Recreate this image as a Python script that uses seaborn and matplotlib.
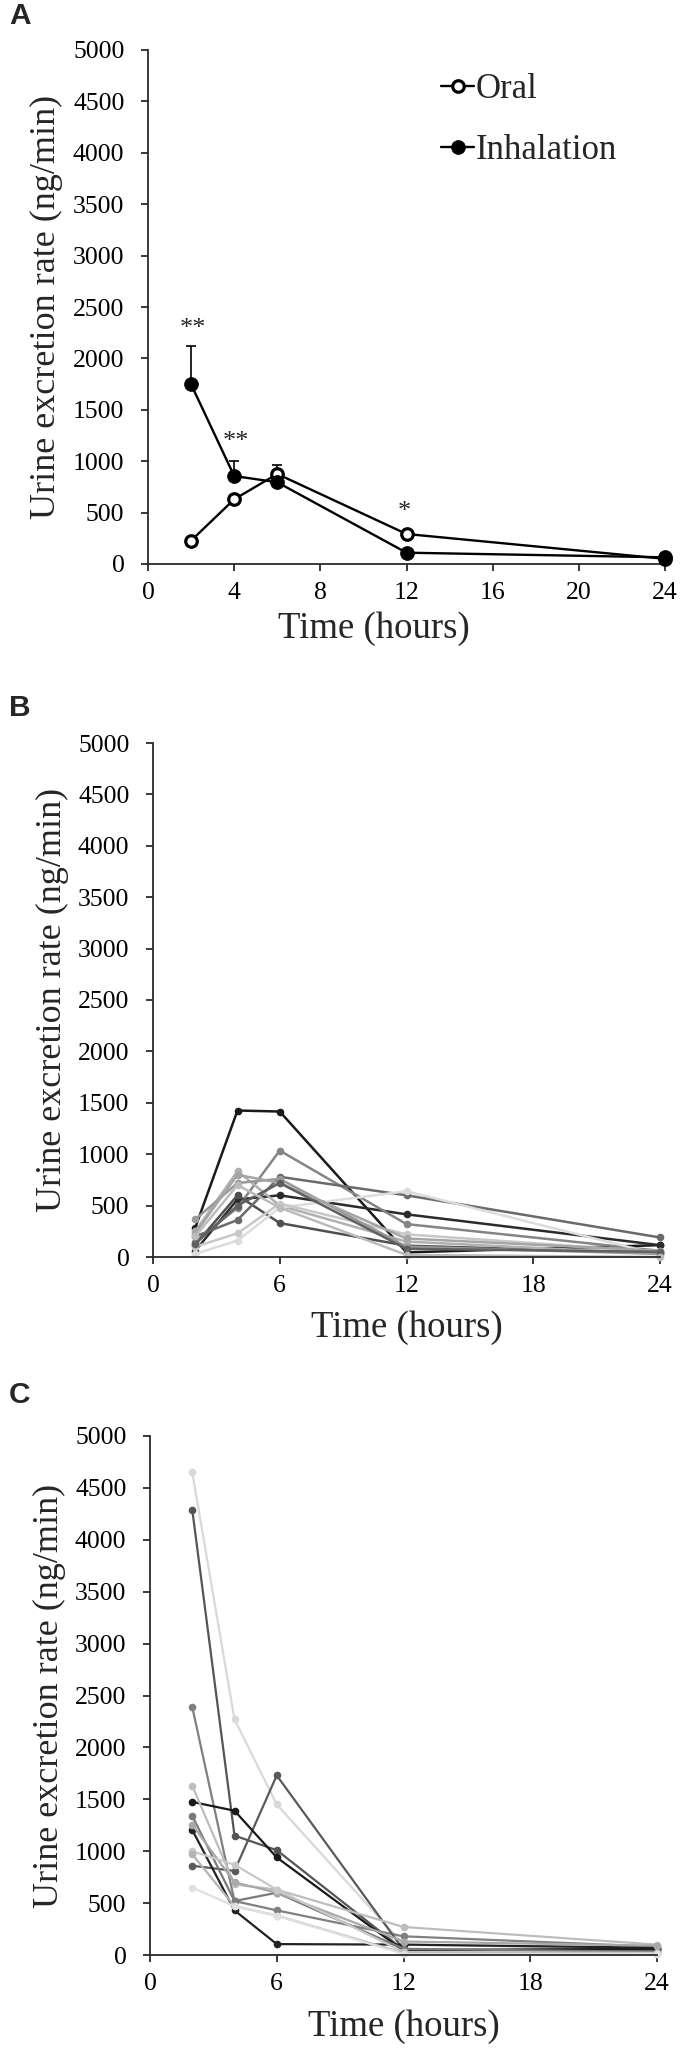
import numpy as np
import pandas as pd
import matplotlib
matplotlib.use("Agg")
import matplotlib.pyplot as plt
import seaborn as sns

# ---------------- data ----------------
hours = [2, 4, 6, 12, 24]

# Panel A: means and upper SD
oral_mean = [227, 629, 876, 292, 50]
oral_sd = [0, 0, 87, 0, 0]
inhal_mean = [1748, 856, 795, 110, 65]
inhal_sd = [376, 146, 0, 0, 0]
sig_labels = ["**", "**", "*"]
sig_x = [2.1, 4.1, 11.9]
sig_y = [2355, 1255, 574]

# Panel B: individual oral subjects
oral_subjects = {
    "O1": [285, 1425, 1415, 45, 115],
    "O2": [60, 560, 600, 415, 115],
    "O3": [150, 480, 1035, 320, 60],
    "O4": [120, 600, 330, 110, 40],
    "O5": [200, 360, 780, 600, 190],
    "O6": [250, 835, 500, 150, 30],
    "O7": [30, 160, 480, 640, 20],
    "O8": [100, 230, 520, 220, 50],
    "O9": [365, 720, 760, 100, 30],
    "O10": [230, 800, 720, 180, 60],
    "O11": [130, 500, 720, 80, 50],
    "O12": [200, 700, 480, 20, 0],
}
oral_colors = ["#1a1a1a", "#2b2b2b", "#858585", "#505050", "#6a6a6a", "#b0b0b0",
               "#dcdcdc", "#c8c8c8", "#999999", "#a5a5a5", "#606060", "#bbbbbb"]

# Panel C: individual inhalation subjects
inhal_subjects = {
    "I1": [4650, 2270, 1450, 100, 60],
    "I2": [4290, 1150, 1010, 50, 60],
    "I3": [2390, 520, 430, 180, 80],
    "I4": [860, 810, 1730, 50, 40],
    "I5": [1475, 1390, 940, 40, 60],
    "I6": [1205, 430, 105, 100, 70],
    "I7": [1630, 680, 630, 270, 100],
    "I8": [1340, 520, 600, 60, 30],
    "I9": [1255, 700, 600, 130, 90],
    "I10": [1000, 870, 630, 30, 20],
    "I11": [970, 470, 380, 20, 10],
    "I12": [650, 470, 380, 10, 10],
}
inhal_colors = ["#d9d9d9", "#555555", "#808080", "#5a5a5a", "#1a1a1a", "#222222",
                "#bdbdbd", "#7a7a7a", "#a8a8a8", "#c8c8c8", "#b4b4b4", "#e0e0e0"]

yticks = list(range(0, 5001, 500))
xticks_a = [0, 4, 8, 12, 16, 20, 24]
xticks_bc = [0, 6, 12, 18, 24]
ylabel = "Urine excretion rate (ng/min)"
xlabel = "Time (hours)"

# ---------------- style ----------------
sns.set_style("ticks")
plt.rcParams["font.family"] = ["Liberation Serif", "DejaVu Serif"]
plt.rcParams["axes.edgecolor"] = "#2a2a2a"
plt.rcParams["xtick.color"] = "#2a2a2a"
plt.rcParams["ytick.color"] = "#2a2a2a"
plt.rcParams["xtick.labelcolor"] = "black"
plt.rcParams["ytick.labelcolor"] = "black"

W, H = 683, 2052
fig = plt.figure(figsize=(W / 100, H / 100), dpi=100)


def add_ax(left, top, right, bottom):
    return fig.add_axes([left / W, 1 - bottom / H, (right - left) / W, (bottom - top) / H])


axA = add_ax(148, 50, 665, 564)
axB = add_ax(153, 743, 660, 1257)
axC = add_ax(150, 1436, 657, 1955)


def style_axis(ax, xticks, xlab_x, xlab_y):
    ax.set_xlim(0, 24)
    ax.set_ylim(0, 5000)
    ax.set_xticks(xticks)
    ax.set_yticks(yticks)
    sns.despine(ax=ax)
    for s in ["left", "bottom"]:
        ax.spines[s].set_linewidth(1.3)
    ax.tick_params(axis="both", direction="out", length=5, width=1.3, labelsize=18.5)
    ax.tick_params(axis="y", pad=12)
    ax.tick_params(axis="x", pad=8)
    ax.set_ylabel(ylabel, fontsize=26)
    ax.set_xlabel(xlabel, fontsize=26.5)
    ax.yaxis.set_label_coords(-0.165, 0.5)
    ax.xaxis.set_label_coords(xlab_x, xlab_y)


# ---------------- Panel A ----------------
dfA = pd.DataFrame({
    "Time": hours * 2,
    "Rate": oral_mean + inhal_mean,
    "Route": ["Oral"] * len(hours) + ["Inhalation"] * len(hours),
})
axA.errorbar(hours, oral_mean, yerr=[np.zeros(len(hours)), oral_sd], fmt="none",
             ecolor="black", elinewidth=1.2, capsize=3.5, capthick=1.2, zorder=1, clip_on=False)
axA.errorbar(hours, inhal_mean, yerr=[np.zeros(len(hours)), inhal_sd], fmt="none",
             ecolor="black", elinewidth=1.2, capsize=3.5, capthick=1.2, zorder=1, clip_on=False)
sns.lineplot(data=dfA[dfA.Route == "Oral"], x="Time", y="Rate", ax=axA, color="black",
             lw=1.7, marker="o", markersize=8.3, markerfacecolor="white",
             markeredgecolor="black", markeredgewidth=2.3, clip_on=False, zorder=3,
             legend=False)
sns.lineplot(data=dfA[dfA.Route == "Inhalation"], x="Time", y="Rate", ax=axA, color="black",
             lw=1.7, marker="o", markersize=10, markerfacecolor="black",
             markeredgecolor="black", markeredgewidth=0.5, clip_on=False, zorder=4,
             legend=False)
for lab, x, y in zip(sig_labels, sig_x, sig_y):
    axA.annotate(lab, xy=(x, y), xytext=(0, -9.6), textcoords="offset points",
                 ha="center", va="baseline", fontsize=19)
style_axis(axA, xticks_a, 0.437, -0.093)
lines = axA.get_lines()
dl = [l for l in lines if l.get_marker() == "o"]
axA.legend(handles=dl[:2], labels=["Oral", "Inhalation"], loc="upper left",
           bbox_to_anchor=(0.567, 0.955), frameon=False, fontsize=25,
           handlelength=0.95, handletextpad=0.05, labelspacing=0.8,
           borderpad=0, borderaxespad=0)

# ---------------- Panel B ----------------
dfB = pd.DataFrame([(k, t, v) for k, vals in oral_subjects.items() for t, v in zip(hours, vals)],
                   columns=["Subject", "Time", "Rate"])
sns.lineplot(data=dfB, x="Time", y="Rate", hue="Subject", palette=oral_colors,
             hue_order=list(oral_subjects.keys()), ax=axB, lw=1.8, marker="o",
             markersize=5.5, markeredgewidth=0, legend=False, clip_on=False, estimator=None)
style_axis(axB, xticks_bc, 0.5, -0.103)

# ---------------- Panel C ----------------
dfC = pd.DataFrame([(k, t, v) for k, vals in inhal_subjects.items() for t, v in zip(hours, vals)],
                   columns=["Subject", "Time", "Rate"])
sns.lineplot(data=dfC, x="Time", y="Rate", hue="Subject", palette=inhal_colors,
             hue_order=list(inhal_subjects.keys()), ax=axC, lw=1.6, marker="o",
             markersize=5.5, markeredgewidth=0, legend=False, clip_on=False, estimator=None)
style_axis(axC, xticks_bc, 0.5, -0.104)

# ---------------- panel letters ----------------
for letter, top in [("A", 2), ("B", 694), ("C", 1381)]:
    fig.text(9 / W, 1 - top / H, letter, ha="left", va="top", fontsize=21.5,
             fontweight="bold", family=["Liberation Sans", "DejaVu Sans"])

fig.savefig("out.png", dpi=100)
